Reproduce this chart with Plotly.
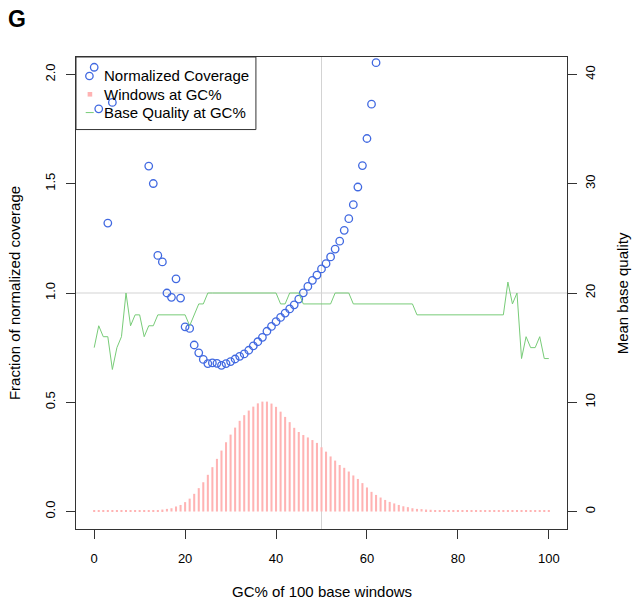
import plotly.graph_objects as go

# ---------------- data ----------------
GC_PCT = list(range(0, 101))

WINDOWS_FRAC = [
    0.006, 0.006, 0.006, 0.006, 0.006, 0.006, 0.006, 0.006, 0.006, 0.006,   # 0-9
    0.006, 0.006, 0.006, 0.006, 0.007, 0.009, 0.012, 0.015, 0.023, 0.030,   # 10-19
    0.043, 0.059, 0.081, 0.107, 0.134, 0.168, 0.203, 0.241, 0.279, 0.317,   # 20-29
    0.352, 0.384, 0.415, 0.441, 0.462, 0.480, 0.495, 0.503, 0.503, 0.494,   # 30-39
    0.479, 0.457, 0.433, 0.409, 0.383, 0.364, 0.350, 0.339, 0.327, 0.314,   # 40-49
    0.294, 0.274, 0.252, 0.233, 0.213, 0.200, 0.183, 0.165, 0.149, 0.130,   # 50-59
    0.110, 0.090, 0.076, 0.064, 0.053, 0.044, 0.037, 0.030, 0.024, 0.020,   # 60-69
    0.015, 0.012, 0.011, 0.009, 0.008, 0.006, 0.006, 0.006, 0.006, 0.006,   # 70-79
    0.006, 0.006, 0.006, 0.006, 0.006, 0.006, 0.006, 0.006, 0.006, 0.006,   # 80-89
    0.006, 0.006, 0.006, 0.006, 0.006, 0.006, 0.006, 0.006, 0.006, 0.006,   # 90-99
    0.006,                                                                 # 100
]

BASE_QUALITY = [
    15, 17, 16, 16, 13, 15, 16, 20, 17, 18,   # 0-9
    18, 16, 17, 17, 18, 18, 18, 18, 18, 18,   # 10-19
    18, 17, 18, 19, 19, 20, 20, 20, 20, 20,   # 20-29
    20, 20, 20, 20, 20, 20, 20, 20, 20, 20,   # 30-39
    20, 19, 19, 20, 20, 20, 19, 19, 19, 19,   # 40-49
    19, 19, 19, 20, 20, 20, 20, 19, 19, 19,   # 50-59
    19, 19, 19, 19, 19, 19, 19, 19, 19, 19,   # 60-69
    19, 18, 18, 18, 18, 18, 18, 18, 18, 18,   # 70-79
    18, 18, 18, 18, 18, 18, 18, 18, 18, 18,   # 80-89
    18, 21, 19, 20, 14, 16, 15, 15, 16, 14,   # 90-99
    14,                                       # 100
]

COV_GC = [0, 1, 3, 4, 12, 13, 14, 15, 16, 17, 18, 19, 20, 21, 22, 23, 24, 25,
          26, 27, 28, 29, 30, 31, 32, 33, 34, 35, 36, 37, 38, 39, 40, 41, 42,
          43, 44, 45, 46, 47, 48, 49, 50, 51, 52, 53, 54, 55, 56, 57, 58, 59,
          60, 61, 62]
NORM_COV = [2.033, 1.843, 1.320, 1.872, 1.581, 1.501, 1.172, 1.142, 1.000,
            0.980, 1.065, 0.977, 0.845, 0.838, 0.762, 0.726, 0.696, 0.677,
            0.680, 0.678, 0.669, 0.677, 0.686, 0.698, 0.710, 0.721, 0.738,
            0.758, 0.777, 0.797, 0.825, 0.847, 0.869, 0.888, 0.908, 0.927,
            0.946, 0.972, 1.001, 1.030, 1.058, 1.082, 1.110, 1.134, 1.165,
            1.201, 1.237, 1.287, 1.340, 1.404, 1.485, 1.583, 1.707, 1.864,
            2.054]

X_TICKS = [0, 20, 40, 60, 80, 100]
Y_TICKS = [0.0, 0.5, 1.0, 1.5, 2.0]
Y_TICK_TEXT = ["0.0", "0.5", "1.0", "1.5", "2.0"]
Y2_TICKS = [0, 10, 20, 30, 40]
REF_GC = 50
REF_COV = 1.0
LEGEND_LABELS = ["Normalized Coverage", "Windows at GC%", "Base Quality at GC%"]
PANEL_LABEL = "G"
X_TITLE = "GC% of 100 base windows"
Y_TITLE = "Fraction of normalized coverage"
Y2_TITLE = "Mean base quality"

# ---------------- style ----------------
W, H = 632, 604
# plot-area edges in window pixels
PL, PR, PT, PB = 76.3, 566.7, 56.7, 529.0
ML, MR, MT, MB = PL, W - PR, PT, H - PB
PW, PH = PR - PL, PB - PT
FONT = "Liberation Sans, Arial, Helvetica, sans-serif"
BLUE = "#4169E1"
PINK = "#FFB3B3"
GREEN = "#78CC78"
AX = "#333333"


def px(x):
    """window x pixel -> paper x"""
    return (x - PL) / PW


def py(y):
    """window y pixel -> paper y"""
    return (PB - y) / PH


fig = go.Figure()

fig.add_trace(go.Bar(x=GC_PCT, y=WINDOWS_FRAC, width=0.45,
                     marker=dict(color=PINK, line=dict(width=0)),
                     name=LEGEND_LABELS[1], showlegend=False))
fig.add_trace(go.Scatter(x=COV_GC, y=NORM_COV, mode="markers",
                         marker=dict(symbol="circle-open", size=7.5, color=BLUE,
                                     line=dict(width=1.3, color=BLUE)),
                         name=LEGEND_LABELS[0], showlegend=False))
fig.add_trace(go.Scatter(x=GC_PCT, y=BASE_QUALITY, mode="lines", yaxis="y2",
                         line=dict(color=GREEN, width=1),
                         name=LEGEND_LABELS[2], showlegend=False))

fig.add_vline(x=REF_GC, line=dict(color="#D3D3D3", width=1), layer="below")
fig.add_hline(y=REF_COV, line=dict(color="#D3D3D3", width=1), layer="below")

tickfont = dict(family=FONT, size=13, color="#000000")
fig.update_layout(
    width=W, height=H,
    margin=dict(l=ML, r=MR, t=MT, b=MB, pad=0),
    paper_bgcolor="white", plot_bgcolor="white",
    font=dict(family=FONT, size=15, color="#000000"),
    showlegend=False,
    xaxis=dict(range=[-4, 104], tickvals=X_TICKS, ticks="outside", ticklen=9,
               tickwidth=1, tickcolor=AX, showline=True, linecolor=AX,
               linewidth=1, mirror=True, showgrid=False, zeroline=False,
               tickfont=tickfont, ticklabelstandoff=8),
    yaxis=dict(range=[-0.08, 2.08], tickvals=Y_TICKS, ticktext=Y_TICK_TEXT,
               ticks="outside", ticklen=9, tickwidth=1, tickcolor=AX,
               showline=True, linecolor=AX, linewidth=1, mirror=True,
               showgrid=False, zeroline=False, tickangle=-90,
               tickfont=tickfont, ticklabelstandoff=6),
    yaxis2=dict(range=[-1.6, 41.6], tickvals=Y2_TICKS, overlaying="y",
                side="right", ticks="outside", ticklen=9, tickwidth=1,
                tickcolor=AX, showline=False, showgrid=False, zeroline=False,
                tickangle=-90, tickfont=tickfont, ticklabelstandoff=2),
)

# titles
fig.add_annotation(text=X_TITLE, xref="paper", yref="paper", x=0.5, y=py(592),
                   xanchor="center", yanchor="middle", showarrow=False,
                   font=dict(size=15))
fig.add_annotation(text=Y_TITLE, xref="paper", yref="paper", x=px(14.5), y=0.5,
                   xanchor="center", yanchor="middle", showarrow=False,
                   textangle=-90, font=dict(size=15))
fig.add_annotation(text=Y2_TITLE, xref="paper", yref="paper", x=px(622), y=0.5,
                   xanchor="center", yanchor="middle", showarrow=False,
                   textangle=-90, font=dict(size=15))
fig.add_annotation(text="<b>" + PANEL_LABEL + "</b>", xref="paper", yref="paper",
                   x=px(17), y=py(18.5), xanchor="center", yanchor="middle",
                   showarrow=False, font=dict(size=23))

# legend (drawn manually)
fig.add_shape(type="rect", xref="paper", yref="paper", x0=0, x1=px(256),
              y0=py(129.3), y1=1, line=dict(color=AX, width=1),
              fillcolor="rgba(0,0,0,0)")
rows = [75.7, 94.0, 112.3]
fig.add_shape(type="circle", xref="paper", yref="paper", xsizemode="pixel",
              ysizemode="pixel", xanchor=px(89.7), yanchor=py(rows[0]),
              x0=-3.7, x1=3.7, y0=-3.7, y1=3.7,
              line=dict(color=BLUE, width=1.3))
fig.add_shape(type="rect", xref="paper", yref="paper", xsizemode="pixel",
              ysizemode="pixel", xanchor=px(90.2), yanchor=py(rows[1]),
              x0=-2.3, x1=2.3, y0=-2.3, y1=2.3,
              line=dict(width=0), fillcolor=PINK)
fig.add_shape(type="line", xref="paper", yref="paper", x0=px(86), x1=px(94),
              y0=py(rows[2]), y1=py(rows[2]), line=dict(color=GREEN, width=1))
for label, r in zip(LEGEND_LABELS, rows):
    fig.add_annotation(text=label, xref="paper", yref="paper", x=px(102.5),
                       y=py(r), xanchor="left", yanchor="middle",
                       showarrow=False, font=dict(size=15))

# remove the browser's default 8px page margin so the figure fills the window
fig.write_html("out.html", config={"displayModeBar": False},
               post_script="document.body.style.margin='0';")
